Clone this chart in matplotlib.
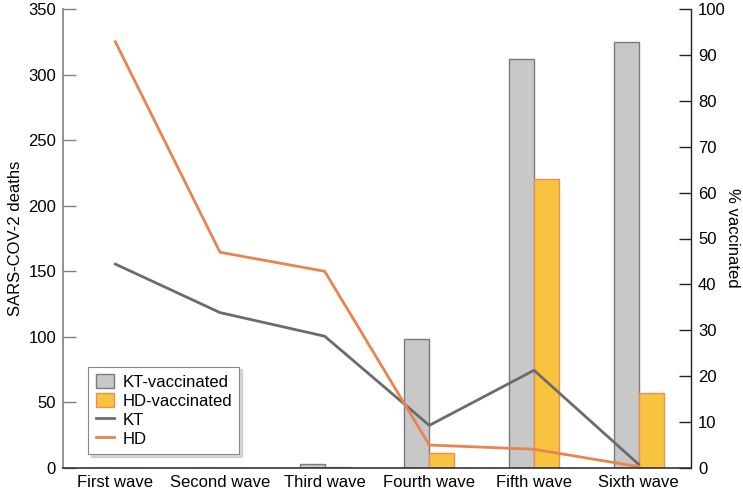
import matplotlib
matplotlib.use("Agg")
import matplotlib.pyplot as plt
import numpy as np
from matplotlib.patches import Patch
from matplotlib.lines import Line2D

plt.rcParams['font.family'] = ['Liberation Sans', 'DejaVu Sans']

categories = ["First wave", "Second wave", "Third wave", "Fourth wave", "Fifth wave", "Sixth wave"]
kt_vaccinated = [0, 0, 0.8, 28.1, 89.0, 92.9]
hd_vaccinated = [0, 0, 0.3, 3.3, 63.0, 16.4]
kt_deaths = [155.5, 118.5, 100.5, 32.5, 74.5, 2.8]
hd_deaths = [325, 164.5, 150, 17.5, 14.3, 1]

left_ticks = [0, 50, 100, 150, 200, 250, 300, 350]
right_ticks = [0, 10, 20, 30, 40, 50, 60, 70, 80, 90, 100]

FS = 12

fig = plt.figure(figsize=(7.43, 4.96), dpi=100)
ax = fig.add_axes([63/743, 28/496, (691-63)/743, (468-9)/496])
ax2 = ax.twinx()

x = np.arange(len(categories))
w = 0.24
ax2.bar(x - w/2, kt_vaccinated, width=w, color='#c8c8c8', edgecolor='#7a7a7a', linewidth=1)
ax2.bar(x + w/2, hd_vaccinated, width=w, color='#f8c440', edgecolor='#e8905a', linewidth=1)

ax.plot(x, kt_deaths, color='#6b6b6b', linewidth=2)
ax.plot(x, hd_deaths, color='#e8844e', linewidth=2)

ax.set_zorder(ax2.get_zorder() + 1)
ax.patch.set_visible(False)

ax.set_xlim(-0.5, len(categories) - 0.5)
ax.set_ylim(0, 350)
ax2.set_ylim(0, 100)
ax.set_yticks(left_ticks)
ax2.set_yticks(right_ticks)
ax.set_xticks(x)
ax.set_xticklabels(categories)

for a in (ax, ax2):
    a.spines['top'].set_visible(False)
ax.spines['right'].set_visible(False)
ax2.spines['left'].set_visible(False)
ax2.spines['bottom'].set_visible(False)
ax.spines['left'].set_color('#808080')
ax.spines['left'].set_linewidth(1.2)
ax.spines['bottom'].set_color('#333333')
ax.spines['bottom'].set_linewidth(1.2)
ax2.spines['right'].set_color('#222222')
ax2.spines['right'].set_linewidth(1.0)

ax.tick_params(axis='y', direction='in', length=9, width=1, color='#808080', labelsize=FS, pad=5)
ax2.tick_params(axis='y', direction='in', length=9, width=1, color='#222222', labelsize=FS, pad=5)
ax.tick_params(axis='x', length=0, labelsize=FS, pad=5)

ax.set_ylabel("SARS-COV-2 deaths", fontsize=FS, labelpad=4)
fig.text(732/743, 1 - 238/496, "% vaccinated", fontsize=FS, rotation=270,
         ha='center', va='center')

handles = [
    Patch(facecolor='#c8c8c8', edgecolor='#7a7a7a', label='KT-vaccinated'),
    Patch(facecolor='#f8c440', edgecolor='#e8905a', label='HD-vaccinated'),
    Line2D([0], [0], color='#6b6b6b', linewidth=2, label='KT'),
    Line2D([0], [0], color='#e8844e', linewidth=2, label='HD'),
]
leg = ax.legend(handles=handles, loc='lower left', bbox_to_anchor=(0.04, 0.03),
                borderaxespad=0, fontsize=FS, handlelength=1.1, handleheight=0.9,
                handletextpad=0.5, labelspacing=0.2, fancybox=False,
                shadow={'color': '#bbbbbb', 'alpha': 0.6, 'ox': 2, 'oy': -2},
                framealpha=1, edgecolor='#888888', borderpad=0.45)
leg.get_frame().set_linewidth(0.8)

fig.savefig("out.png", dpi=100)
